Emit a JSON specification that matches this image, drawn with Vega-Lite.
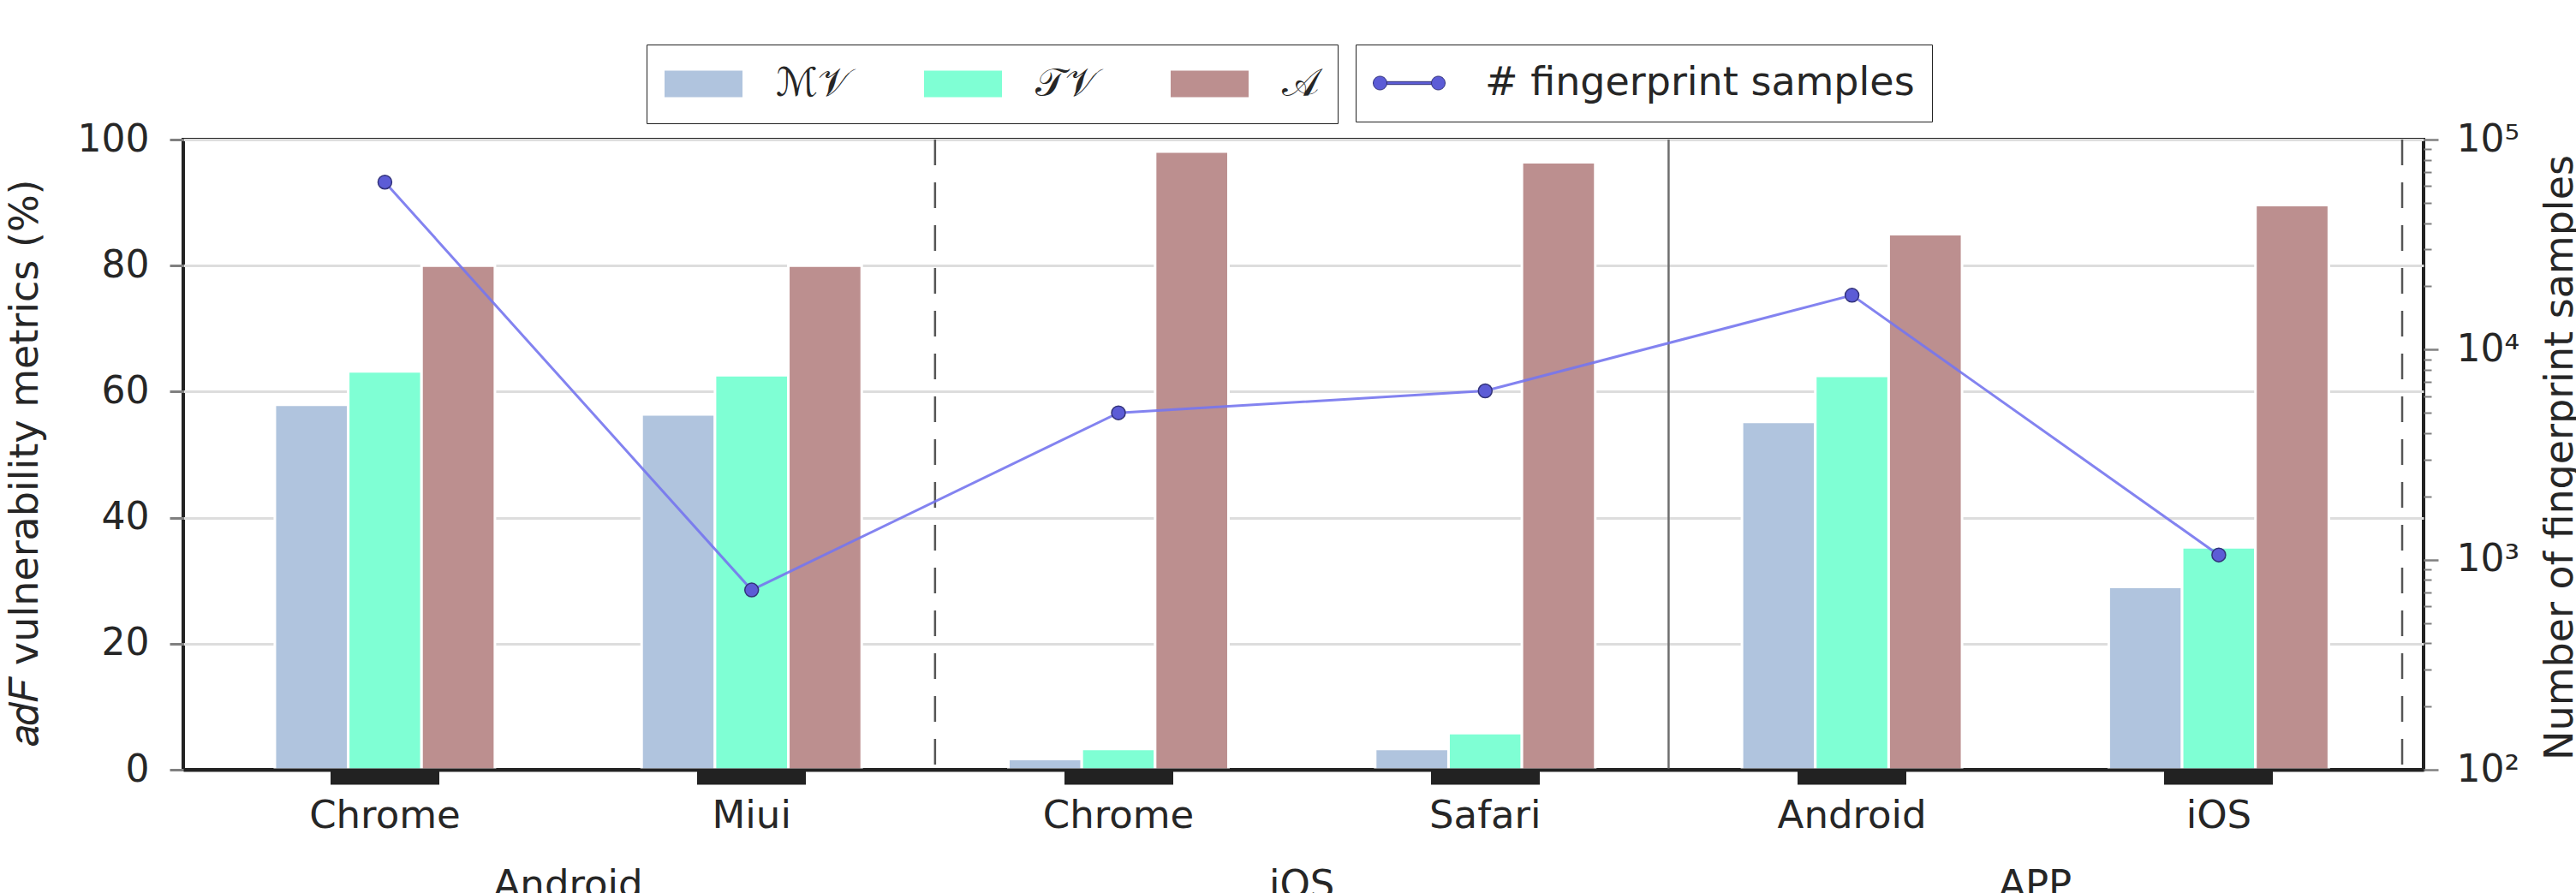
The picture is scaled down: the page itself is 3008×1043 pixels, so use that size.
{
  "$schema": "https://vega.github.io/schema/vega-lite/v6.json",
  "width": 2616,
  "height": 736,
  "autosize": {"type": "none"},
  "padding": {"left": 214, "top": 163, "right": 178, "bottom": 144},
  "background": "white",
  "config": {
    "font": "DejaVu Sans",
    "view": {"stroke": "#222222", "strokeWidth": 4},
    "axis": {"labelFont": "DejaVu Sans", "titleFont": "DejaVu Sans", "labelColor": "#262626", "titleColor": "#262626", "titleFontWeight": "normal"},
    "legend": {"labelFont": "DejaVu Sans", "labelColor": "#262626", "strokeColor": "#222222"}
  },
  "datasets": {
    "bars": [
      {"group": "Android|Chrome", "metric": "ℳ𝒱", "value": 57.9},
      {"group": "Android|Chrome", "metric": "𝒯𝒱", "value": 63.2},
      {"group": "Android|Chrome", "metric": "𝒜", "value": 80.0},
      {"group": "Android|Miui", "metric": "ℳ𝒱", "value": 56.4},
      {"group": "Android|Miui", "metric": "𝒯𝒱", "value": 62.6},
      {"group": "Android|Miui", "metric": "𝒜", "value": 80.0},
      {"group": "iOS|Chrome", "metric": "ℳ𝒱", "value": 1.7},
      {"group": "iOS|Chrome", "metric": "𝒯𝒱", "value": 3.3},
      {"group": "iOS|Chrome", "metric": "𝒜", "value": 98.1},
      {"group": "iOS|Safari", "metric": "ℳ𝒱", "value": 3.3},
      {"group": "iOS|Safari", "metric": "𝒯𝒱", "value": 5.8},
      {"group": "iOS|Safari", "metric": "𝒜", "value": 96.4},
      {"group": "APP|Android", "metric": "ℳ𝒱", "value": 55.2},
      {"group": "APP|Android", "metric": "𝒯𝒱", "value": 62.5},
      {"group": "APP|Android", "metric": "𝒜", "value": 85.0},
      {"group": "APP|iOS", "metric": "ℳ𝒱", "value": 29.0},
      {"group": "APP|iOS", "metric": "𝒯𝒱", "value": 35.3},
      {"group": "APP|iOS", "metric": "𝒜", "value": 89.6}
    ],
    "samples": [
      {"group": "Android|Chrome", "samples": 62700},
      {"group": "Android|Miui", "samples": 717},
      {"group": "iOS|Chrome", "samples": 5000},
      {"group": "iOS|Safari", "samples": 6360},
      {"group": "APP|Android", "samples": 18150},
      {"group": "APP|iOS", "samples": 1053}
    ],
    "sepDashed": [{"group": "Android|Miui"}, {"group": "APP|iOS"}],
    "sepSolid": [{"group": "iOS|Safari"}],
    "platforms": [
      {"group": "Android|Chrome", "label": "Android", "pos": -20.3},
      {"group": "iOS|Chrome", "label": "iOS", "pos": -20.3},
      {"group": "APP|Android", "label": "APP", "pos": -20.3}
    ]
  },
  "layer": [
    {
      "layer": [
        {
          "data": {"name": "sepDashed"},
          "mark": {"type": "rule", "color": "#555555", "strokeWidth": 2.5, "strokeDash": [30, 20]},
          "encoding": {
            "x": {"field": "group", "type": "nominal", "bandPosition": 1, "title": null,
                  "scale": {"domain": ["Android|Chrome", "Android|Miui", "iOS|Chrome", "iOS|Safari", "APP|Android", "APP|iOS"], "paddingInner": 0, "paddingOuter": 0.054, "align": 0.46}}
          }
        },
        {
          "data": {"name": "sepSolid"},
          "mark": {"type": "rule", "color": "#6e6e6e", "strokeWidth": 2.5},
          "encoding": {
            "x": {"field": "group", "type": "nominal", "bandPosition": 1, "title": null,
                  "scale": {"domain": ["Android|Chrome", "Android|Miui", "iOS|Chrome", "iOS|Safari", "APP|Android", "APP|iOS"], "paddingInner": 0, "paddingOuter": 0.054, "align": 0.46}}
          }
        },
        {
          "data": {"name": "bars"},
          "mark": {"type": "bar", "stroke": "white", "strokeWidth": 3},
          "encoding": {
            "x": {"field": "group", "type": "nominal", "title": null,
                  "scale": {"domain": ["Android|Chrome", "Android|Miui", "iOS|Chrome", "iOS|Safari", "APP|Android", "APP|iOS"], "paddingInner": 0, "paddingOuter": 0.054, "align": 0.46},
                  "axis": {"orient": "bottom", "domain": true, "domainColor": "#222222", "domainWidth": 4, "ticks": true, "tickSize": 17, "tickWidth": 127, "tickColor": "#222222", "labelPadding": 14, "labelFontSize": 45, "labelAngle": 0, "labelAlign": "center", "labelBaseline": "top", "zindex": 1, "labelExpr": "split(datum.label, '|')[1]"}},
            "xOffset": {"field": "metric", "type": "nominal", "scale": {"domain": ["ℳ𝒱", "𝒯𝒱", "𝒜"], "paddingInner": 0, "paddingOuter": 1.04}},
            "y": {"field": "value", "type": "quantitative",
                  "scale": {"domain": [0, 100], "nice": false},
                  "axis": {"orient": "left", "values": [0, 20, 40, 60, 80, 100], "grid": true, "gridColor": "#dddddd", "gridWidth": 3, "domain": false, "tickSize": 16, "tickWidth": 3, "tickColor": "#808080", "labelPadding": 24, "labelFontSize": 44, "labelFlush": false, "title": "𝑎𝑑𝐹 vulnerability metrics (%)", "titleFontSize": 46, "titleAngle": 270, "titleBaseline": "alphabetic", "titleAlign": "center", "titleX": -171, "titleY": 377}},
            "color": {"field": "metric", "type": "nominal",
                      "scale": {"domain": ["ℳ𝒱", "𝒯𝒱", "𝒜"], "range": ["#b0c4de", "#7fffd4", "#bc8f8f"]},
                      "legend": {"orient": "none", "legendX": 541, "legendY": -111, "direction": "horizontal", "columns": 3, "title": null, "symbolType": "M-1,-0.34H1V0.34H-1Z", "symbolSize": 8281, "symbolStrokeWidth": 0, "clipHeight": 50, "labelFontSize": 46, "labelOffset": 39, "columnPadding": 85, "padding": 21, "labelLimit": 400}}
          }
        },
        {
          "data": {"name": "platforms"},
          "mark": {"type": "text", "fontSize": 45, "baseline": "alphabetic", "align": "center", "color": "#262626", "font": "DejaVu Sans"},
          "encoding": {
            "x": {"field": "group", "type": "nominal", "bandPosition": 1, "title": null,
                  "scale": {"domain": ["Android|Chrome", "Android|Miui", "iOS|Chrome", "iOS|Safari", "APP|Android", "APP|iOS"], "paddingInner": 0, "paddingOuter": 0.054, "align": 0.46}},
            "y": {"field": "pos", "type": "quantitative", "scale": {"domain": [0, 100], "nice": false}},
            "text": {"field": "label"}
          }
        }
      ]
    },
    {
      "data": {"name": "samples"},
      "encoding": {
        "x": {"field": "group", "type": "nominal", "title": null,
              "scale": {"domain": ["Android|Chrome", "Android|Miui", "iOS|Chrome", "iOS|Safari", "APP|Android", "APP|iOS"], "paddingInner": 0, "paddingOuter": 0.054, "align": 0.46}},
        "y": {"field": "samples", "type": "quantitative",
              "scale": {"type": "log", "domain": [100, 100000], "nice": false},
              "axis": {"orient": "right", "values": [100, 1000, 10000, 100000], "labelExpr": "datum.value == 100 ? '10²' : datum.value == 1000 ? '10³' : datum.value == 10000 ? '10⁴' : '10⁵'", "grid": false, "domain": false, "tickSize": 17, "tickWidth": 2.5, "tickColor": "#808080", "labelPadding": 21, "labelFontSize": 44, "labelFlush": false, "labelOverlap": false, "title": "Number of fingerprint samples", "titleFontSize": 46, "titleAngle": 270, "titleBaseline": "alphabetic", "titleAlign": "center", "titleX": 173, "titleY": 371}}
      },
      "layer": [
        {"mark": {"type": "line", "color": "#7575ee", "strokeWidth": 3, "opacity": 0.9}},
        {
          "mark": {"type": "point", "filled": true, "size": 256, "opacity": 1, "stroke": "#33337a", "strokeWidth": 1.5},
          "encoding": {
            "color": {"datum": "# fingerprint samples", "type": "nominal",
                      "scale": {"range": ["#5c5cd6"]},
                      "legend": {"orient": "none", "legendX": 1369, "legendY": -111, "title": null, "symbolType": "M-1,0A0.19,0.19,0,1,1,-0.62,0A0.19,0.19,0,1,1,-1,0Z M-0.62,-0.04H0.62V0.04H-0.62Z M0.62,0A0.19,0.19,0,1,1,1,0A0.19,0.19,0,1,1,0.62,0Z", "symbolSize": 7056, "symbolStrokeColor": "#33337a", "symbolStrokeWidth": 1, "clipHeight": 50, "labelFontSize": 46, "labelOffset": 46, "padding": 20, "labelLimit": 700}}
          }
        }
      ]
    },
    {
      "data": {"name": "samples"},
      "mark": {"type": "point", "opacity": 0},
      "encoding": {
        "x": {"field": "group", "type": "nominal", "title": null,
              "scale": {"domain": ["Android|Chrome", "Android|Miui", "iOS|Chrome", "iOS|Safari", "APP|Android", "APP|iOS"], "paddingInner": 0, "paddingOuter": 0.054, "align": 0.46}},
        "y": {"field": "samples", "type": "quantitative",
              "scale": {"type": "log", "domain": [100, 100000], "nice": false},
              "axis": {"orient": "right", "values": [200, 300, 400, 500, 600, 700, 800, 900, 2000, 3000, 4000, 5000, 6000, 7000, 8000, 9000, 20000, 30000, 40000, 50000, 60000, 70000, 80000, 90000], "labels": false, "domain": false, "grid": false, "tickSize": 9, "tickWidth": 2, "tickColor": "#808080", "title": null}}
      }
    }
  ],
  "resolve": {"scale": {"y": "independent", "color": "independent"}}
}
